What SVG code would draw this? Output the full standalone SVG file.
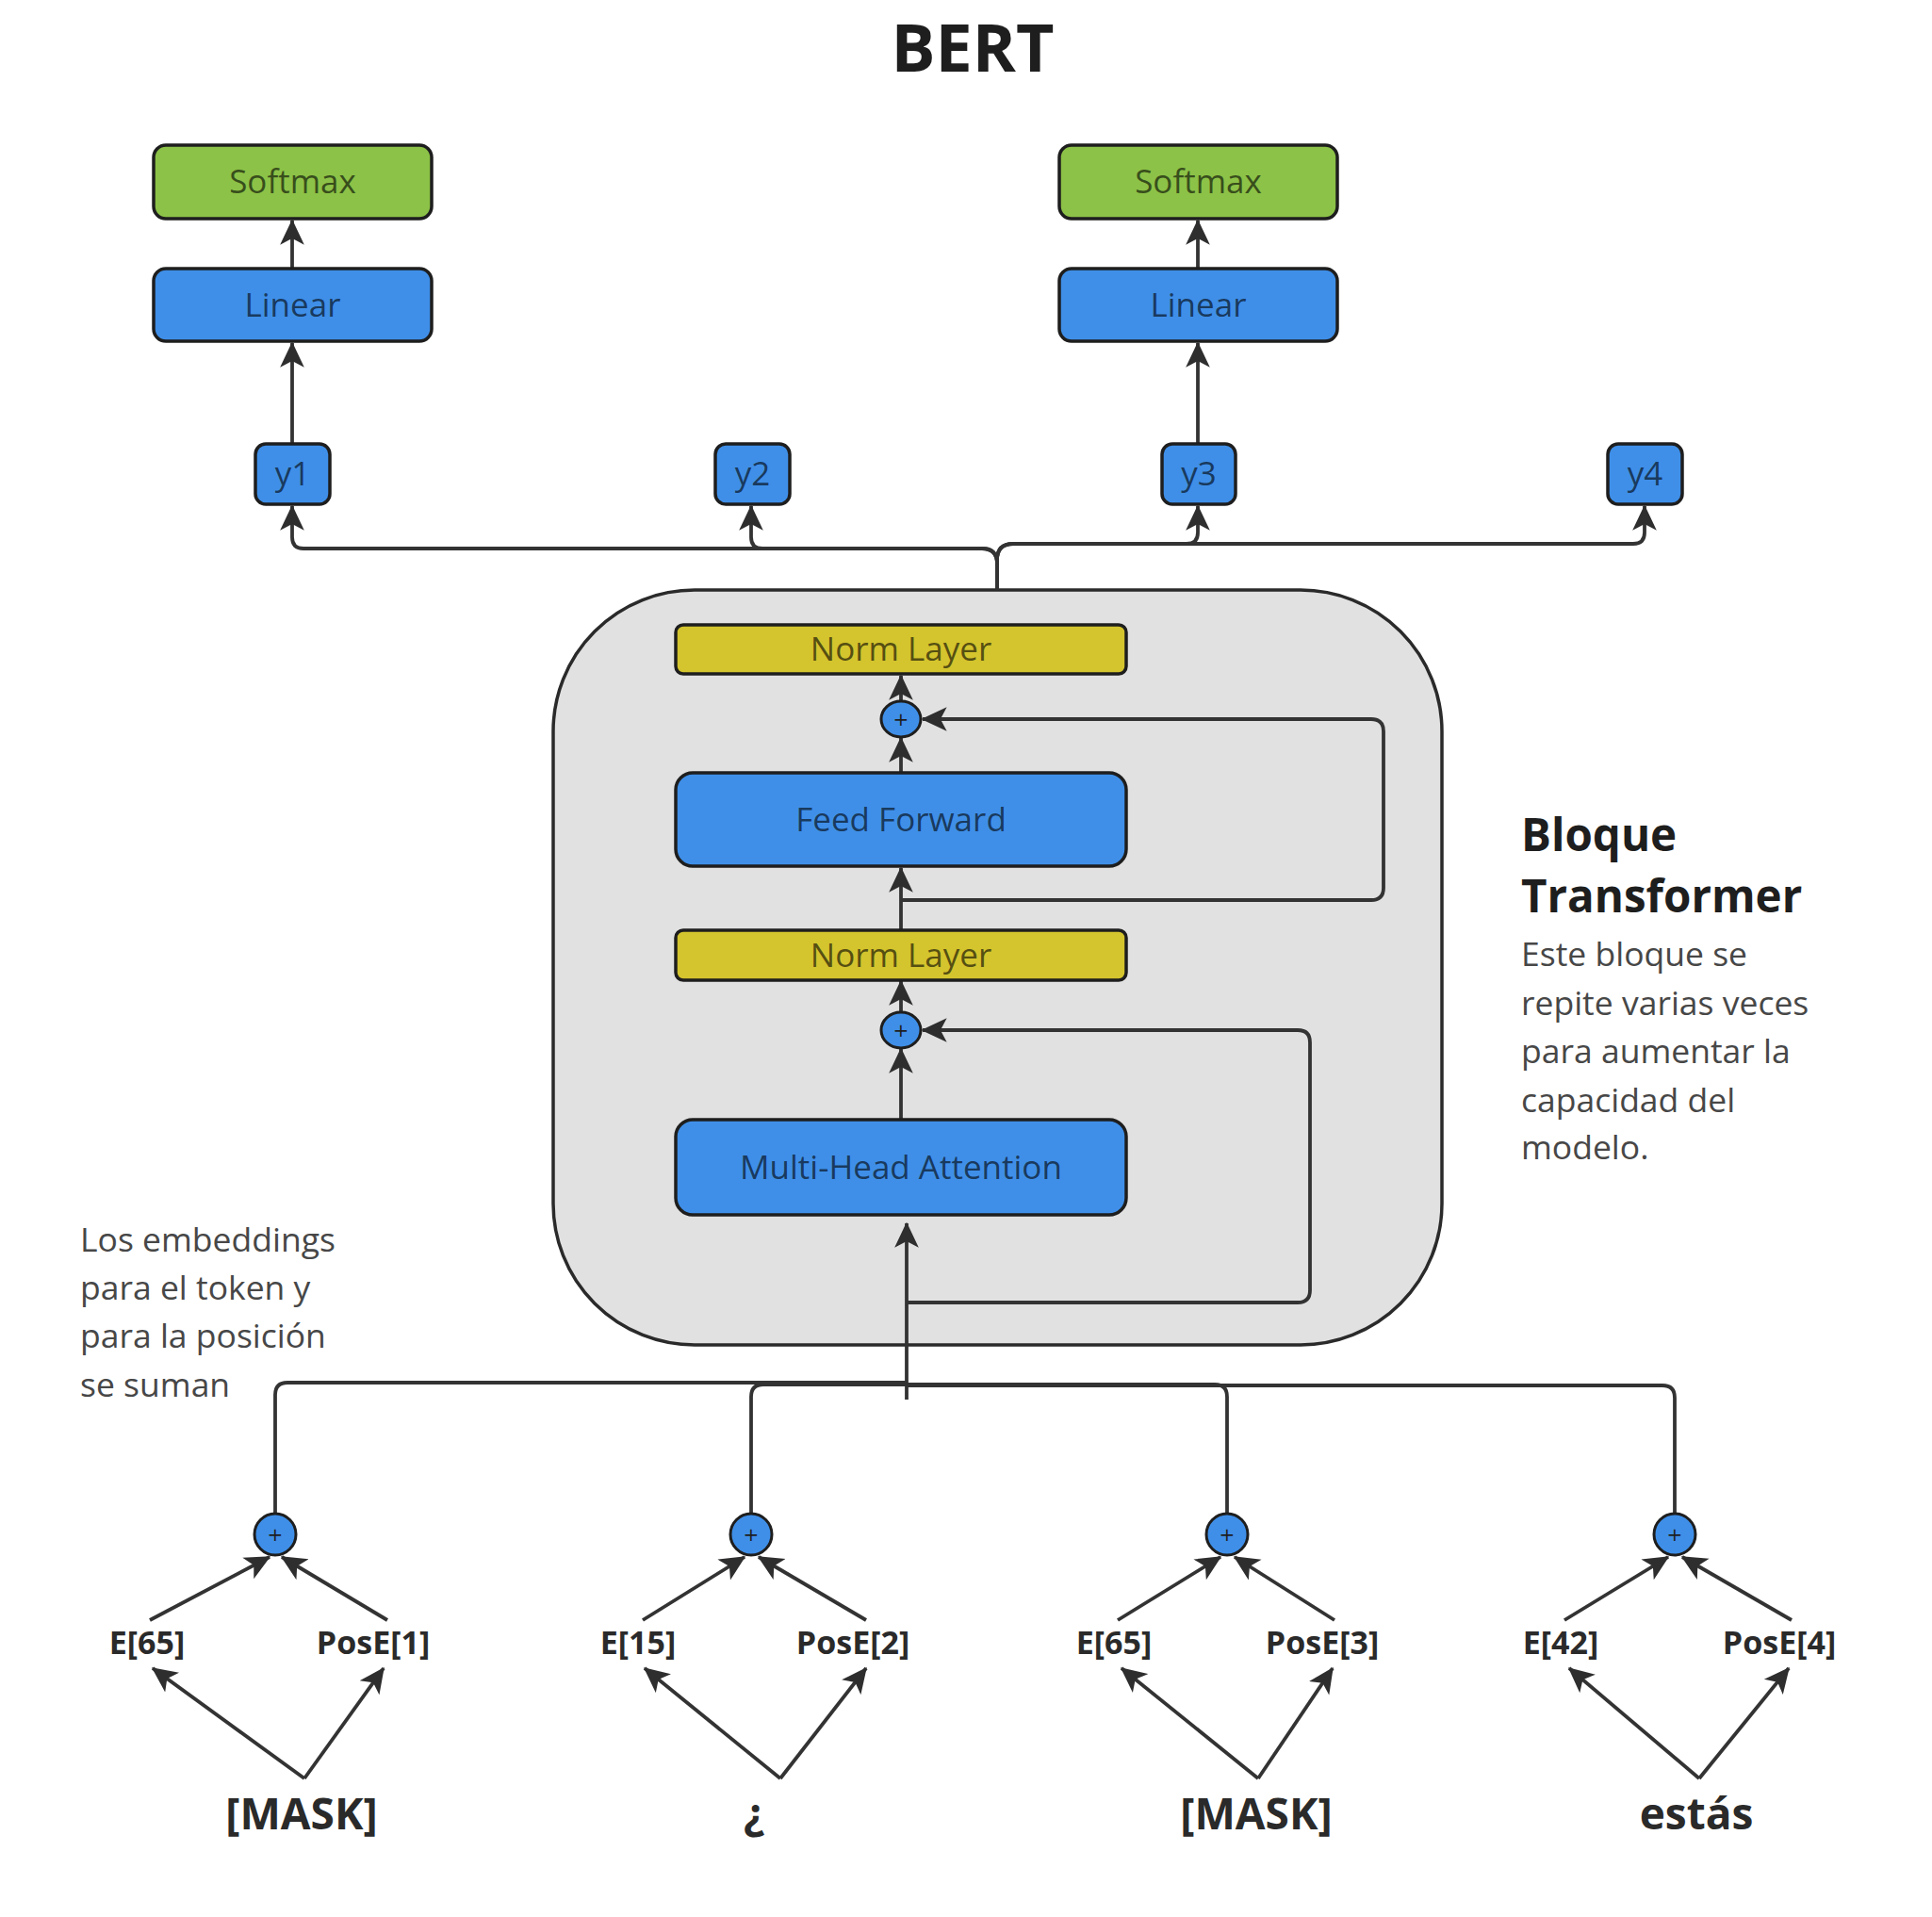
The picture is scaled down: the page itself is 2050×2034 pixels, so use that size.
<svg xmlns="http://www.w3.org/2000/svg" width="2050" height="2034" viewBox="0 0 2050 2034">
<defs>
<marker id="ah" viewBox="0 0 20 20" refX="19" refY="10" markerWidth="27" markerHeight="27" markerUnits="userSpaceOnUse" orient="auto">
<path d="M0,0.5 L20,10 L0,19.5 L5,10 z" fill="#2e2e2e"/>
</marker>
<style>
.box{stroke:#1e1e1e;stroke-width:3.5}
.blue{fill:#3f8fe8}
.green{fill:#8cc247}
.yellow{fill:#d4c42d}
.bt{font-family:"Open Sans","Liberation Sans",sans-serif;font-size:35px;text-anchor:middle;fill:#000;fill-opacity:0.62}
.ln{fill:none;stroke:#333;stroke-width:3.8}
.arr{marker-end:url(#ah)}
.plus{fill:#3f8fe8;stroke:#1e1e1e;stroke-width:3}
.pt{font-family:"DejaVu Sans",sans-serif;font-size:20px;text-anchor:middle;fill:#1e1e1e}
.lab{font-family:"Open Sans","Liberation Sans",sans-serif;font-size:34px;font-weight:700;text-anchor:middle;fill:#2a2a2a}
.tok{font-family:"Open Sans","Liberation Sans",sans-serif;font-size:46px;font-weight:700;text-anchor:middle;fill:#2a2a2a}
.note{font-family:"Open Sans","Liberation Sans",sans-serif;font-size:35.5px;fill:#474747}
.head{font-family:"Open Sans","Liberation Sans",sans-serif;font-size:47.5px;font-weight:700;fill:#1e1e1e}
</style>
</defs>
<rect width="2050" height="2034" fill="#fff"/>
<text x="1032" y="76" font-family="Open Sans, Liberation Sans, sans-serif" font-size="70" font-weight="700" text-anchor="middle" fill="#1e1e1e">BERT</text>

<g id="transformer-block">
<rect x="587" y="626" width="943" height="801" rx="150" ry="150" fill="#e1e1e1" stroke="#2a2a2a" stroke-width="3.5"/>
</g>

<g id="connectors">
<path class="ln arr" d="M310,471 V364"/>
<path class="ln arr" d="M310,285 V234"/>
<path class="ln arr" d="M1271,471 V364"/>
<path class="ln arr" d="M1271,285 V234"/>
<path class="ln arr" d="M1058,626 V598 Q1058,582 1042,582 H322 Q310,582 310,570 V537"/>
<path class="ln arr" d="M1058,626 V598 Q1058,582 1042,582 H809 Q797,582 797,570 V537"/>
<path class="ln arr" d="M1058,626 V594 Q1058,577 1075,577 H1259 Q1271,577 1271,565 V537"/>
<path class="ln arr" d="M1058,626 V594 Q1058,577 1075,577 H1733 Q1745,577 1745,565 V537"/>
<path class="ln arr" d="M956,745 V717"/>
<path class="ln arr" d="M956,820 V783"/>
<path class="ln arr" d="M956,987 V921"/>
<path class="ln arr" d="M956,1075 V1041"/>
<path class="ln arr" d="M956,1188 V1113"/>
<path class="ln arr" d="M956,955 H1455 Q1468,955 1468,942 V776 Q1468,763 1455,763 H979"/>
<path class="ln arr" d="M962,1382 H1377 Q1390,1382 1390,1369 V1106 Q1390,1093 1377,1093 H979"/>
<path class="ln arr" d="M962,1485 V1298"/>
<path class="ln" d="M292,1606 V1480 Q292,1467 305,1467 H962"/>
<path class="ln" d="M797,1606 V1482 Q797,1469 810,1469 H962"/>
<path class="ln" d="M1302,1606 V1482 Q1302,1469 1289,1469 H962"/>
<path class="ln" d="M1777,1606 V1483 Q1777,1470 1764,1470 H962"/>
<path class="ln arr" d="M159,1719 L286,1652"/>
<path class="ln arr" d="M411,1719 L299,1652"/>
<path class="ln arr" d="M682,1719 L790,1652"/>
<path class="ln arr" d="M919,1719 L805,1652"/>
<path class="ln arr" d="M1186,1719 L1295,1652"/>
<path class="ln arr" d="M1416,1719 L1310,1652"/>
<path class="ln arr" d="M1660,1719 L1770,1652"/>
<path class="ln arr" d="M1901,1719 L1785,1652"/>
<path class="ln arr" d="M323,1887 L162,1770"/>
<path class="ln arr" d="M323,1887 L407,1770"/>
<path class="ln arr" d="M828,1887 L684,1770"/>
<path class="ln arr" d="M828,1887 L919,1770"/>
<path class="ln arr" d="M1335,1887 L1190,1770"/>
<path class="ln arr" d="M1335,1887 L1414,1770"/>
<path class="ln arr" d="M1803,1887 L1665,1770"/>
<path class="ln arr" d="M1803,1887 L1898,1770"/>
</g>

<g id="softmax-1"><rect class="box green" x="163" y="154" width="295" height="78" rx="13"/><text class="bt" x="310.5" y="205">Softmax</text></g>
<g id="linear-1"><rect class="box blue" x="163" y="285" width="295" height="77" rx="13"/><text class="bt" x="310.5" y="336">Linear</text></g>
<g id="softmax-2"><rect class="box green" x="1124" y="154" width="295" height="78" rx="13"/><text class="bt" x="1271.5" y="205">Softmax</text></g>
<g id="linear-2"><rect class="box blue" x="1124" y="285" width="295" height="77" rx="13"/><text class="bt" x="1271.5" y="336">Linear</text></g>

<g id="y1"><rect class="box blue" x="271" y="471" width="79" height="64" rx="11"/><text class="bt" x="310.5" y="515">y1</text></g>
<g id="y2"><rect class="box blue" x="759" y="471" width="79" height="64" rx="11"/><text class="bt" x="798.5" y="515">y2</text></g>
<g id="y3"><rect class="box blue" x="1233" y="471" width="78" height="64" rx="11"/><text class="bt" x="1272" y="515">y3</text></g>
<g id="y4"><rect class="box blue" x="1706" y="471" width="79" height="64" rx="11"/><text class="bt" x="1745.5" y="515">y4</text></g>

<g id="norm-layer-2"><rect class="box yellow" x="717" y="663" width="478" height="52" rx="8"/><text class="bt" x="956" y="701">Norm Layer</text></g>
<g id="add-2"><ellipse class="plus" cx="956" cy="763" rx="21" ry="19"/><text class="pt" x="956" y="770">+</text></g>
<g id="feed-forward"><rect class="box blue" x="717" y="820" width="478" height="99" rx="18"/><text class="bt" x="956" y="882">Feed Forward</text></g>
<g id="norm-layer-1"><rect class="box yellow" x="717" y="987" width="478" height="53" rx="8"/><text class="bt" x="956" y="1026">Norm Layer</text></g>
<g id="add-1"><ellipse class="plus" cx="956" cy="1093" rx="21" ry="19"/><text class="pt" x="956" y="1100">+</text></g>
<g id="multi-head-attention"><rect class="box blue" x="717" y="1188" width="478" height="101" rx="18"/><text class="bt" x="956" y="1251">Multi-Head Attention</text></g>

<g id="block-label">
<text class="head" x="1614" y="903">Bloque</text>
<text class="head" x="1614" y="968">Transformer</text>
<text class="note" x="1614" y="1025">Este bloque se</text>
<text class="note" x="1614" y="1077">repite varias veces</text>
<text class="note" x="1614" y="1128">para aumentar la</text>
<text class="note" x="1614" y="1180">capacidad del</text>
<text class="note" x="1614" y="1230">modelo.</text>
</g>
<g id="embedding-note">
<text class="note" x="85" y="1328">Los embeddings</text>
<text class="note" x="85" y="1379">para el token y</text>
<text class="note" x="85" y="1430">para la posición</text>
<text class="note" x="85" y="1482">se suman</text>
</g>

<g id="sum-1"><circle class="plus" cx="292" cy="1628" r="22"/><text class="pt" x="292" y="1635">+</text></g>
<g id="sum-2"><circle class="plus" cx="797" cy="1628" r="22"/><text class="pt" x="797" y="1635">+</text></g>
<g id="sum-3"><circle class="plus" cx="1302" cy="1628" r="22"/><text class="pt" x="1302" y="1635">+</text></g>
<g id="sum-4"><circle class="plus" cx="1777" cy="1628" r="22"/><text class="pt" x="1777" y="1635">+</text></g>

<g id="emb-1"><text class="lab" x="156" y="1755">E[65]</text></g>
<g id="pos-1"><text class="lab" x="396" y="1755">PosE[1]</text></g>
<g id="emb-2"><text class="lab" x="677" y="1755">E[15]</text></g>
<g id="pos-2"><text class="lab" x="905" y="1755">PosE[2]</text></g>
<g id="emb-3"><text class="lab" x="1182" y="1755">E[65]</text></g>
<g id="pos-3"><text class="lab" x="1403" y="1755">PosE[3]</text></g>
<g id="emb-4"><text class="lab" x="1656" y="1755">E[42]</text></g>
<g id="pos-4"><text class="lab" x="1888" y="1755">PosE[4]</text></g>

<g id="token-1"><text class="tok" x="320" y="1941">[MASK]</text></g>
<g id="token-2"><text class="tok" x="800" y="1941">¿</text></g>
<g id="token-3"><text class="tok" x="1333" y="1941">[MASK]</text></g>
<g id="token-4"><text class="tok" x="1800" y="1941">estás</text></g>
</svg>
